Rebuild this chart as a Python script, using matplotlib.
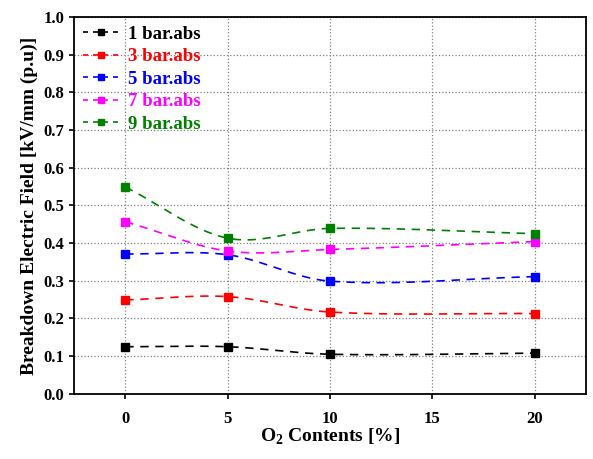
import numpy as np
import matplotlib.pyplot as plt

o2 = [0, 5, 10, 20]
bar1 = [0.125, 0.125, 0.105, 0.108]
bar3 = [0.249, 0.258, 0.217, 0.213]
bar5 = [0.371, 0.369, 0.299, 0.311]
bar7 = [0.457, 0.379, 0.383, 0.404]
bar9 = [0.549, 0.413, 0.439, 0.425]
labels = ['1 bar.abs', '3 bar.abs', '5 bar.abs', '7 bar.abs', '9 bar.abs']
colors = ['black', 'red', 'blue', 'magenta', 'green']


def smooth(x, y, n=60):
    # cardinal (Catmull-Rom style) hermite curve through the points
    x = np.asarray(x, float)
    y = np.asarray(y, float)
    k = len(x)
    d = np.zeros(k)
    d[0] = (y[1] - y[0]) / (x[1] - x[0])
    d[-1] = (y[-1] - y[-2]) / (x[-1] - x[-2])
    for i in range(1, k - 1):
        d[i] = (y[i + 1] - y[i - 1]) / (x[i + 1] - x[i - 1])
    xs_all, ys_all = [], []
    for i in range(k - 1):
        h = x[i + 1] - x[i]
        t = np.linspace(0, 1, n)
        h00 = 2 * t**3 - 3 * t**2 + 1
        h10 = t**3 - 2 * t**2 + t
        h01 = -2 * t**3 + 3 * t**2
        h11 = t**3 - t**2
        xs_all.append(x[i] + t * h)
        ys_all.append(h00 * y[i] + h10 * h * d[i] + h01 * y[i + 1] + h11 * h * d[i + 1])
    return np.concatenate(xs_all), np.concatenate(ys_all)


plt.rcParams['font.family'] = 'Liberation Serif'
plt.rcParams['font.weight'] = 'bold'
plt.rcParams['mathtext.fontset'] = 'custom'
plt.rcParams['mathtext.rm'] = 'Liberation Serif:bold'
plt.rcParams['mathtext.bf'] = 'Liberation Serif:bold'

fig = plt.figure(figsize=(5.93, 4.59), dpi=100)
ax = fig.add_axes([0.125, 0.142, 0.863, 0.821])

for ys, lab, c in zip([bar1, bar3, bar5, bar7, bar9], labels, colors):
    sx, sy = smooth(o2, ys)
    ax.plot(sx, sy, '--', color=c, lw=1.2, dashes=(5, 4))
    ax.plot(o2, ys, 's', color=c, ms=6)
    ax.plot([], [], '--s', color=c, lw=1.2, ms=5, dashes=(3, 3), label=lab)

ax.set_xlim(-2.5, 22.5)
ax.set_ylim(0, 1.0)
ax.set_xticks([0, 5, 10, 15, 20])
ax.set_yticks(np.arange(0, 1.01, 0.1))
ax.yaxis.set_major_formatter(plt.FormatStrFormatter('%.1f'))
ax.grid(True, ls=':', color='gray', lw=0.9)
ax.tick_params(labelsize=12, width=1.2, direction='out')
ax.tick_params(axis='x', pad=9)
for s in ax.spines.values():
    s.set_linewidth(1.3)

ax.set_xlabel('O$_\\mathrm{2}$ Contents [%]', fontsize=14, fontweight='bold', labelpad=0)
ax.set_ylabel('Breakdown Electric Field [kV/mm (p.u)]', fontsize=14, fontweight='bold')

leg = ax.legend(loc='upper left', frameon=False, fontsize=13.5, handlelength=2.0,
                borderaxespad=0.0, borderpad=0.45, labelspacing=0.29, handletextpad=0.4)
for t, c in zip(leg.get_texts(), colors):
    t.set_color(c)

fig.savefig('out.png', dpi=100)
